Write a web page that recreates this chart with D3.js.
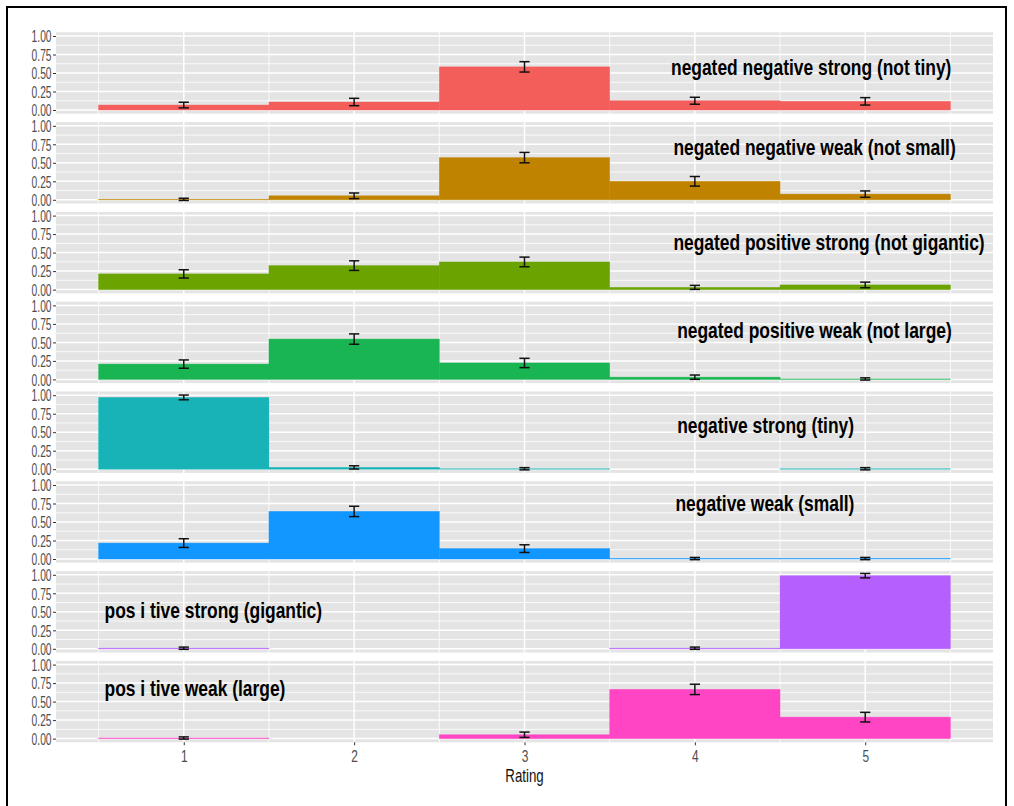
<!DOCTYPE html>
<html><head><meta charset="utf-8">
<script src="https://cdn.jsdelivr.net/npm/d3@7"></script>
<style>
html,body{margin:0;padding:0;background:#fff;}
svg{display:block;}
text{font-family:"Liberation Sans",Arial,sans-serif;}
</style></head><body>
<svg id="chart" width="1014" height="806"></svg>
<script>
// ---------------- data ----------------
const conditions = [
  "negated negative strong (not tiny)",
  "negated negative weak (not small)",
  "negated positive strong (not gigantic)",
  "negated positive weak (not large)",
  "negative strong (tiny)",
  "negative weak (small)",
  "pos i tive strong (gigantic)",
  "pos i tive weak (large)"
];
const ratings = [1, 2, 3, 4, 5];
const proportions = [
  [0.067, 0.108, 0.583, 0.125, 0.117],
  [0.006, 0.054, 0.570, 0.250, 0.077],
  [0.212, 0.324, 0.374, 0.030, 0.063],
  [0.207, 0.545, 0.222, 0.030, 0.006],
  [0.970, 0.024, 0.006, null, 0.006],
  [0.215, 0.643, 0.140, 0.006, 0.006],
  [0.008, null, null, 0.008, 0.988],
  [0.008, null, 0.052, 0.665, 0.290]
];
const errors = [
  [0.038, 0.050, 0.070, 0.047, 0.050],
  [0.015, 0.038, 0.070, 0.065, 0.043],
  [0.056, 0.065, 0.065, 0.027, 0.038],
  [0.056, 0.070, 0.063, 0.029, 0.015],
  [0.032, 0.022, 0.015, null, 0.015],
  [0.059, 0.070, 0.052, 0.015, 0.015],
  [0.015, null, null, 0.015, 0.030],
  [0.015, null, 0.036, 0.070, 0.065]
];
const labelX = [3.86, 3.874, 3.874, 3.896, 3.896, 3.886, 0.535, 0.535];
const labelY = [0.477, 0.60, 0.54, 0.56, 0.49, 0.65, 0.42, 0.58];
const fillColors = ["#F35E5B", "#C08300", "#6BA300", "#18B552", "#18B3B6", "#1296FF", "#B65FFF", "#FF44C4"];
const yTicks = [0, 0.25, 0.5, 0.75, 1];
const yTickLabels = ["0.00", "0.25", "0.50", "0.75", "1.00"];
const yMinor = [0.125, 0.375, 0.625, 0.875];
const xMinor = [0.5, 1.5, 2.5, 3.5, 4.5, 5.5];
const xTickLabels = ["1", "2", "3", "4", "5"];
const xTitle = "Rating";

// ---------------- layout ----------------
const svg = d3.select("#chart");
const left = 56, right = 993, top0 = 32.3, panelH = 81.4, step = 89.8;
const x = d3.scaleLinear().domain([0.25, 5.75]).range([left, right]);
const capHalf = 0.03;

// outer frame
svg.append("path")
  .attr("d", "M7,830 L7,7 L1006,7 L1006,830")
  .attr("fill", "none").attr("stroke", "#000").attr("stroke-width", 2);

conditions.forEach((cond, i) => {
  const t = top0 + i * step;
  const y = d3.scaleLinear().domain([-0.05, 1.05]).range([t + panelH, t]);
  const g = svg.append("g");
  g.append("rect").attr("x", left).attr("y", t).attr("width", right - left).attr("height", panelH).attr("fill", "#E4E4E4");
  // minor grid
  g.selectAll(".hmin").data(yMinor).enter().append("line")
    .attr("x1", left).attr("x2", right).attr("y1", d => y(d)).attr("y2", d => y(d))
    .attr("stroke", "#fff").attr("stroke-width", 0.8);
  g.selectAll(".vmin").data(xMinor).enter().append("line")
    .attr("y1", t).attr("y2", t + panelH).attr("x1", d => x(d)).attr("x2", d => x(d))
    .attr("stroke", "#fff").attr("stroke-width", 0.8);
  // major grid
  g.selectAll(".hmaj").data(yTicks).enter().append("line")
    .attr("x1", left).attr("x2", right).attr("y1", d => y(d)).attr("y2", d => y(d))
    .attr("stroke", "#fff").attr("stroke-width", 1.5);
  g.selectAll(".vmaj").data(ratings).enter().append("line")
    .attr("y1", t).attr("y2", t + panelH).attr("x1", d => x(d)).attr("x2", d => x(d))
    .attr("stroke", "#fff").attr("stroke-width", 1.5);

  const rows = ratings.map((r, j) => ({ r, v: proportions[i][j], e: errors[i][j] })).filter(d => d.v != null);
  // bars
  g.selectAll(".bar").data(rows).enter().append("rect")
    .attr("x", d => x(d.r - 0.5)).attr("width", d => x(d.r + 0.5) - x(d.r - 0.5))
    .attr("y", d => y(d.v)).attr("height", d => y(0) - y(d.v))
    .attr("fill", fillColors[i])
    .attr("stroke", fillColors[i]).attr("stroke-width", 0.7).attr("stroke-opacity", 0.6);
  // error bars
  const eb = g.selectAll(".eb").data(rows).enter().append("g")
    .attr("stroke", "#111").attr("stroke-width", 1.5).attr("fill", "none");
  eb.append("line").attr("x1", d => x(d.r)).attr("x2", d => x(d.r)).attr("y1", d => y(d.v - d.e)).attr("y2", d => y(d.v + d.e));
  eb.append("line").attr("x1", d => x(d.r - capHalf)).attr("x2", d => x(d.r + capHalf)).attr("y1", d => y(d.v - d.e)).attr("y2", d => y(d.v - d.e));
  eb.append("line").attr("x1", d => x(d.r - capHalf)).attr("x2", d => x(d.r + capHalf)).attr("y1", d => y(d.v + d.e)).attr("y2", d => y(d.v + d.e));

  // y axis
  const ax = d3.axisLeft(y).tickValues(yTicks).tickFormat((d, k) => yTickLabels[k]).tickSize(3).tickPadding(2);
  const ag = g.append("g").attr("transform", `translate(${left},0)`).call(ax);
  ag.select(".domain").remove();
  ag.selectAll(".tick line").attr("stroke", "#333").attr("stroke-width", 1);
  ag.selectAll(".tick text").attr("fill", "#4D4D4D").attr("font-size", 16)
    .attr("x", -4.5 / 0.64).attr("dy", "0.36em").attr("transform", "scale(0.64,1)");

  // annotation
  g.append("text")
    .attr("transform", `translate(${x(labelX[i])},${y(labelY[i])}) scale(0.81,1)`)
    .attr("font-size", 21.5).attr("font-weight", "bold").attr("fill", "#000")
    .text(cond);
});

// x axis
const bottom = top0 + 7 * step + panelH;
const xa = d3.axisBottom(x).tickValues(ratings).tickFormat((d, k) => xTickLabels[k]).tickSize(3).tickPadding(4);
const xg = svg.append("g").attr("transform", `translate(0,${bottom})`).call(xa);
xg.select(".domain").remove();
xg.selectAll(".tick line").attr("stroke", "#333").attr("stroke-width", 1);
xg.selectAll(".tick text").attr("fill", "#4D4D4D").attr("font-size", 17)
  .attr("y", 0).attr("dy", 0).attr("transform", "translate(0,20) scale(0.7,1)");

svg.append("text")
  .attr("transform", `translate(${(left + right) / 2},${bottom + 40}) scale(0.7,1)`)
  .attr("text-anchor", "middle").attr("font-size", 19).attr("fill", "#111")
  .text(xTitle);
</script>
</body></html>
